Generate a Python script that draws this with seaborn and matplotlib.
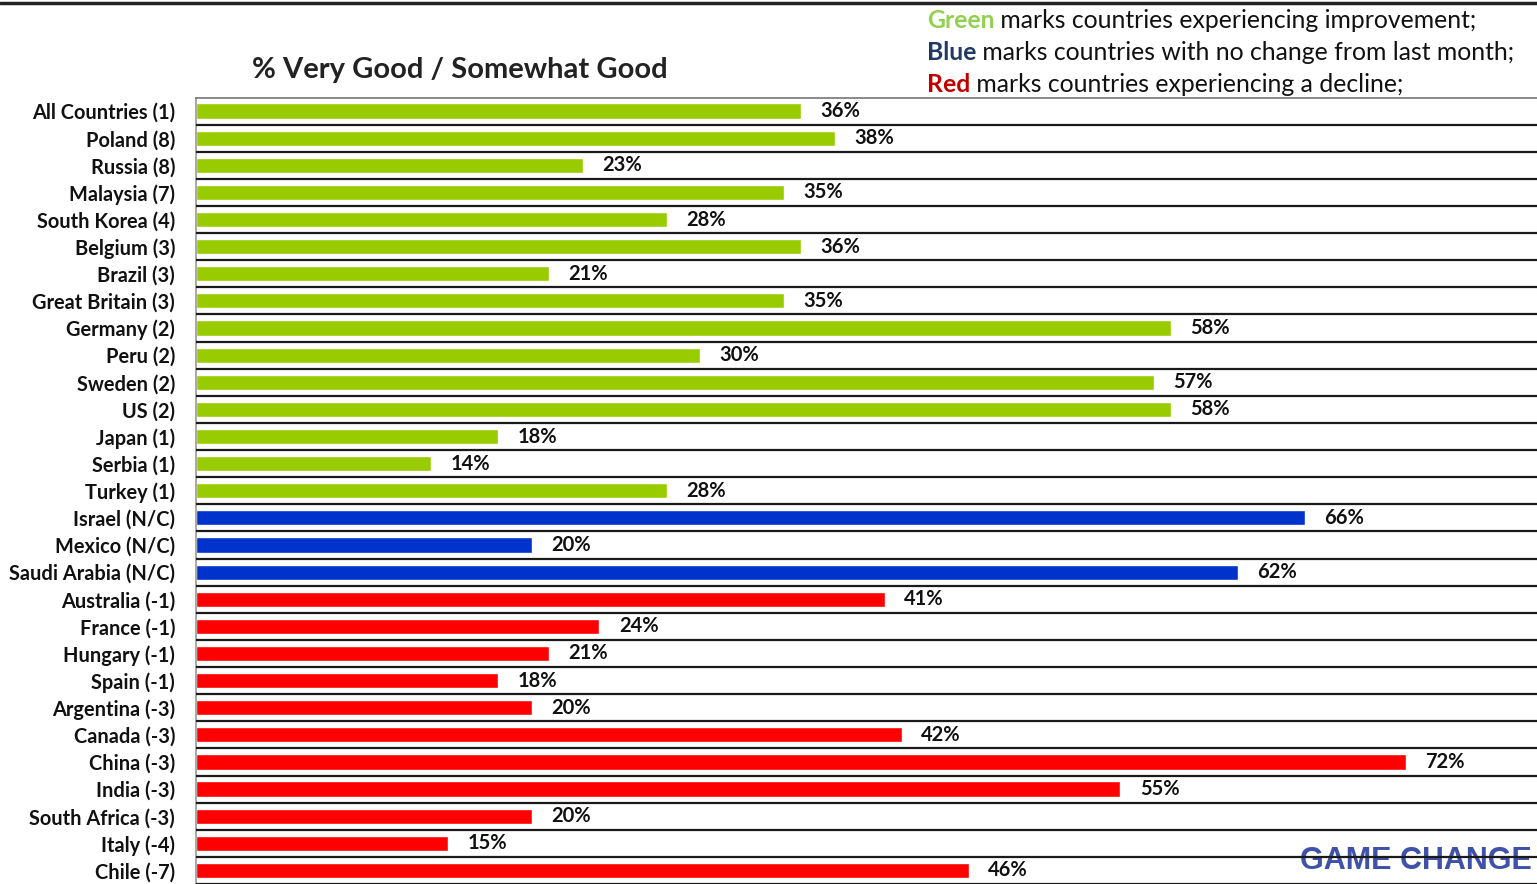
import pandas as pd
import seaborn as sns
import matplotlib.pyplot as plt
from matplotlib.lines import Line2D

# data
countries = ["All Countries (1)", "Poland (8)", "Russia (8)", "Malaysia (7)", "South Korea (4)",
             "Belgium (3)", "Brazil (3)", "Great Britain (3)", "Germany (2)", "Peru (2)",
             "Sweden (2)", "US (2)", "Japan (1)", "Serbia (1)", "Turkey (1)",
             "Israel (N/C)", "Mexico (N/C)", "Saudi Arabia (N/C)",
             "Australia (-1)", "France (-1)", "Hungary (-1)", "Spain (-1)", "Argentina (-3)",
             "Canada (-3)", "China (-3)", "India (-3)", "South Africa (-3)", "Italy (-4)", "Chile (-7)"]
values = [36, 38, 23, 35, 28, 36, 21, 35, 58, 30, 57, 58, 18, 14, 28,
          66, 20, 62,
          41, 24, 21, 18, 20, 42, 72, 55, 20, 15, 46]
status = ["up"] * 15 + ["same"] * 3 + ["down"] * 11
palette = {"up": "#99CC00", "same": "#0033CC", "down": "#FF0000"}

df = pd.DataFrame({"country": countries, "pct": values, "status": status})

sns.set_style("white")
plt.rcParams['font.family'] = ['Lato', 'DejaVu Sans']

fig = plt.figure(figsize=(15.37, 8.84), dpi=100)
ax = fig.add_axes([196 / 1537, 0.0, 1 - 196 / 1537, 1 - 97.5 / 884])

sns.barplot(data=df, x="pct", y="country", hue="status", palette=palette,
            dodge=False, legend=False, width=0.56, ax=ax, saturation=1)

for c in ax.containers:
    lbls = ax.bar_label(c, fmt="{:.0f}%", padding=14, fontsize=14.5, fontweight="bold", color="#111111")
    for t in lbls:
        t.set_va("center")

n = len(countries)
ax.set_xlim(0, 79.8)
ax.set_ylim(n - 0.5, -0.5)
ax.set_xlabel("")
ax.set_ylabel("")
ax.set_xticks([])

# row separators
for i in range(n):
    ax.axhline(i + 0.5, color="#1a1a1a", lw=1.6, zorder=3)
ax.set_yticks([i + 0.5 for i in range(-1, n)], minor=True)
ax.tick_params(axis="y", which="minor", length=4, color="#999999", width=1.2)
ax.tick_params(axis="y", which="major", length=0, pad=15)
for lab in ax.get_yticklabels():
    lab.set_fontweight("bold")
    lab.set_fontsize(14.4)
    lab.set_color("#111111")

for s in ["right", "bottom"]:
    ax.spines[s].set_visible(False)
ax.spines["left"].set_color("#999999")
ax.spines["left"].set_linewidth(1.2)
ax.spines["top"].set_color("#777777")
ax.spines["top"].set_linewidth(1.2)

# title
fig.text(460 / 1537, 1 - 70 / 884, "% Very Good / Somewhat Good", ha="center", va="center",
         fontsize=21, fontweight="bold", color="#222222")

# colour key at top right
fig.canvas.draw()
renderer = fig.canvas.get_renderer()
key = [("Green", "#92D050", " marks countries experiencing improvement;"),
       ("Blue", "#1F3864", " marks countries with no change from last month;"),
       ("Red", "#C00000", " marks countries experiencing a decline;")]
for k, (word, col, rest) in enumerate(key):
    y = 1 - (21 + 32 * k) / 884
    t = fig.text(927 / 1537, y, word, color=col, fontsize=17.8, fontweight="bold", va="center")
    bb = t.get_window_extent(renderer)
    fig.text(bb.x1 / fig.bbox.width, y, rest, color="#111111", fontsize=17.8, va="center")

# top rule
fig.add_artist(Line2D([0, 1], [1 - 3 / 884, 1 - 3 / 884], transform=fig.transFigure,
                      color="#222222", lw=2.5))

# logo text, sits under the separators
ax.text(1532 / 1537, 1 - 861 / 884, "GAME CHANGE", transform=fig.transFigure, clip_on=False,
        ha="right", va="center", fontsize=22, fontweight="bold", color="#3F51A8",
        family="Liberation Sans", zorder=1)

fig.savefig("out.png", dpi=100)
